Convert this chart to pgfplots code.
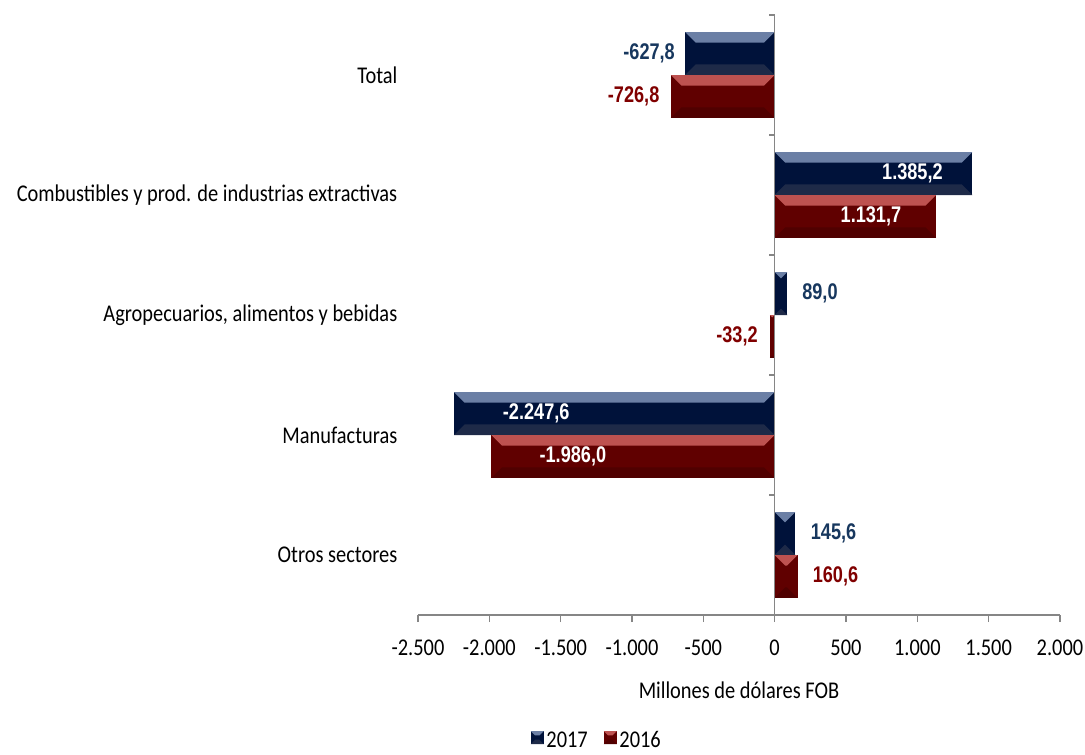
\documentclass[border=0pt]{standalone}
\usepackage{pgfplots}
\pgfplotsset{compat=1.18}
\usepackage{fontspec}
\setmainfont{Carlito}[FakeStretch=0.85]
\newfontfamily\labfont{Liberation Sans}[FakeStretch=0.8]
\definecolor{navyM}{HTML}{00123A}
\definecolor{navyT}{HTML}{6B7FA5}
\definecolor{navyB}{HTML}{1E2A48}
\definecolor{redM}{HTML}{600000}
\definecolor{redT}{HTML}{BE5250}
\definecolor{redB}{HTML}{500000}
\definecolor{lblue}{HTML}{17375E}
\definecolor{lred}{HTML}{800000}
\definecolor{axgray}{HTML}{868686}
\tikzset{
  bevel/.style n args={3}{fill=#1, draw=none, path picture={%
    \pgfpointanchor{path picture bounding box}{south west}\pgfgetlastxy{\xa}{\ya}%
    \pgfpointanchor{path picture bounding box}{north east}\pgfgetlastxy{\xb}{\yb}%
    \pgfmathsetlengthmacro{\bv}{min(8pt,(\xb-\xa)/2,(\yb-\ya)/3)}%
    \pgfsetfillcolor{#2}%
    \pgfpathmoveto{\pgfpoint{\xa}{\yb}}\pgfpathlineto{\pgfpoint{\xb}{\yb}}%
    \pgfpathlineto{\pgfpoint{\xb-\bv}{\yb-\bv}}\pgfpathlineto{\pgfpoint{\xa+\bv}{\yb-\bv}}%
    \pgfpathclose\pgfusepath{fill}%
    \pgfsetfillcolor{#3}%
    \pgfpathmoveto{\pgfpoint{\xa}{\ya}}\pgfpathlineto{\pgfpoint{\xb}{\ya}}%
    \pgfpathlineto{\pgfpoint{\xb-\bv}{\ya+\bv}}\pgfpathlineto{\pgfpoint{\xa+\bv}{\ya+\bv}}%
    \pgfpathclose\pgfusepath{fill}%
  }},
  navybar/.style={bevel={navyM}{navyT}{navyB}},
  redbar/.style={bevel={redM}{redT}{redB}},
  dl/.style={font=\labfont\bfseries\fontsize{17}{18}\selectfont, inner sep=0pt},
}
\newcommand\barA[2]{\addplot[xbar, bar width=0.358, bar shift=0.179, navybar, forget plot] coordinates {(#1,#2)};}
\newcommand\barB[2]{\addplot[xbar, bar width=0.358, bar shift=-0.179, redbar, forget plot] coordinates {(#1,#2)};}
\begin{document}
\begin{tikzpicture}
\useasboundingbox (0,0) rectangle (813.75pt,565.5pt);
\begin{axis}[
  at={(313.5pt,104.25pt)}, anchor=south west,
  scale only axis, width=481.5pt, height=450pt,
  xmin=-2500, xmax=2000, ymin=-0.5, ymax=4.5,
  axis x line*=bottom, axis y line*=left,
  y axis line style={draw=none},
  x axis line style={draw=axgray, line width=0.9pt, -},
  xtick={-2500,-2000,-1500,-1000,-500,0,500,1000,1500,2000},
  xticklabels={-2.500,-2.000,-1.500,-1.000,-500,0,500,1.000,1.500,2.000},
  tick align=outside, major tick length=5.25pt,
  xtick style={draw=axgray, line width=0.9pt},
  ytick={0,1,2,3,4}, ytick style={draw=none},
  yticklabels={Otros sectores, Manufacturas, {Agropecuarios, alimentos y bebidas}, Combustibles y prod. de industrias extractivas, Total},
  ticklabel style={font=\fontsize{18}{21}\selectfont},
  yticklabel style={xshift=-6.75pt},
  xticklabel style={yshift=-10pt},
  xlabel={Millones de dólares FOB},
  xlabel style={font=\fontsize{18}{21}\selectfont, at={(axis description cs:0.5,0)}, anchor=center, yshift=-56.25pt},
  clip=false,
  legend style={at={(axis description cs:0.279,-0.209)}, anchor=center, draw=none, fill=none,
    legend columns=2, font=\fontsize{18}{19}\selectfont, inner sep=1pt,
    /tikz/every even column/.append style={column sep=10pt}},
  legend cell align=left,
]
% 2017
\barA{-627.8}{4}
\barA{1385.2}{3}
\barA{89.0}{2}
\barA{-2247.6}{1}
\barA{145.6}{0}
% 2016
\barB{-726.8}{4}
\barB{1131.7}{3}
\barB{-33.2}{2}
\barB{-1986.0}{1}
\barB{160.6}{0}
\addlegendimage{legend image code/.code={\fill[navybar] (0pt,-2.75pt) rectangle (9.75pt,7pt);}}
\addlegendentry{2017}
\addlegendimage{legend image code/.code={\fill[redbar] (0pt,-2.75pt) rectangle (9.75pt,7pt);}}
\addlegendentry{2016}
% vertical axis at zero
\draw[axgray, line width=0.9pt] (axis cs:0,-0.5) -- (axis cs:0,4.5);
\draw[axgray, line width=0.9pt] (axis cs:0,0.5) -- ++(-4pt,0pt);
\draw[axgray, line width=0.9pt] (axis cs:0,1.5) -- ++(-4pt,0pt);
\draw[axgray, line width=0.9pt] (axis cs:0,2.5) -- ++(-4pt,0pt);
\draw[axgray, line width=0.9pt] (axis cs:0,3.5) -- ++(-4pt,0pt);
\draw[axgray, line width=0.9pt] (axis cs:0,4.5) -- ++(-4pt,0pt);
% data labels
\node[dl, lblue, anchor=east, xshift=-7.5pt] at (axis cs:-627.8,4.179) {-627,8};
\node[dl, lred, anchor=east, xshift=-8.5pt] at (axis cs:-726.8,3.821) {-726,8};
\node[dl, white, anchor=east, xshift=-22pt] at (axis cs:1385.2,3.179) {1.385,2};
\node[dl, white, anchor=east, xshift=-26pt] at (axis cs:1131.7,2.821) {1.131,7};
\node[dl, lblue, anchor=west, xshift=11pt] at (axis cs:89.0,2.179) {89,0};
\node[dl, lred, anchor=east, xshift=-9pt] at (axis cs:-33.2,1.821) {-33,2};
\node[dl, white, anchor=west, xshift=36.5pt] at (axis cs:-2247.6,1.179) {-2.247,6};
\node[dl, white, anchor=west, xshift=36pt] at (axis cs:-1986.0,0.821) {-1.986,0};
\node[dl, lblue, anchor=west, xshift=11.4pt] at (axis cs:145.6,0.179) {145,6};
\node[dl, lred, anchor=west, xshift=11.2pt] at (axis cs:160.6,-0.179) {160,6};
\end{axis}
\end{tikzpicture}
\end{document}
